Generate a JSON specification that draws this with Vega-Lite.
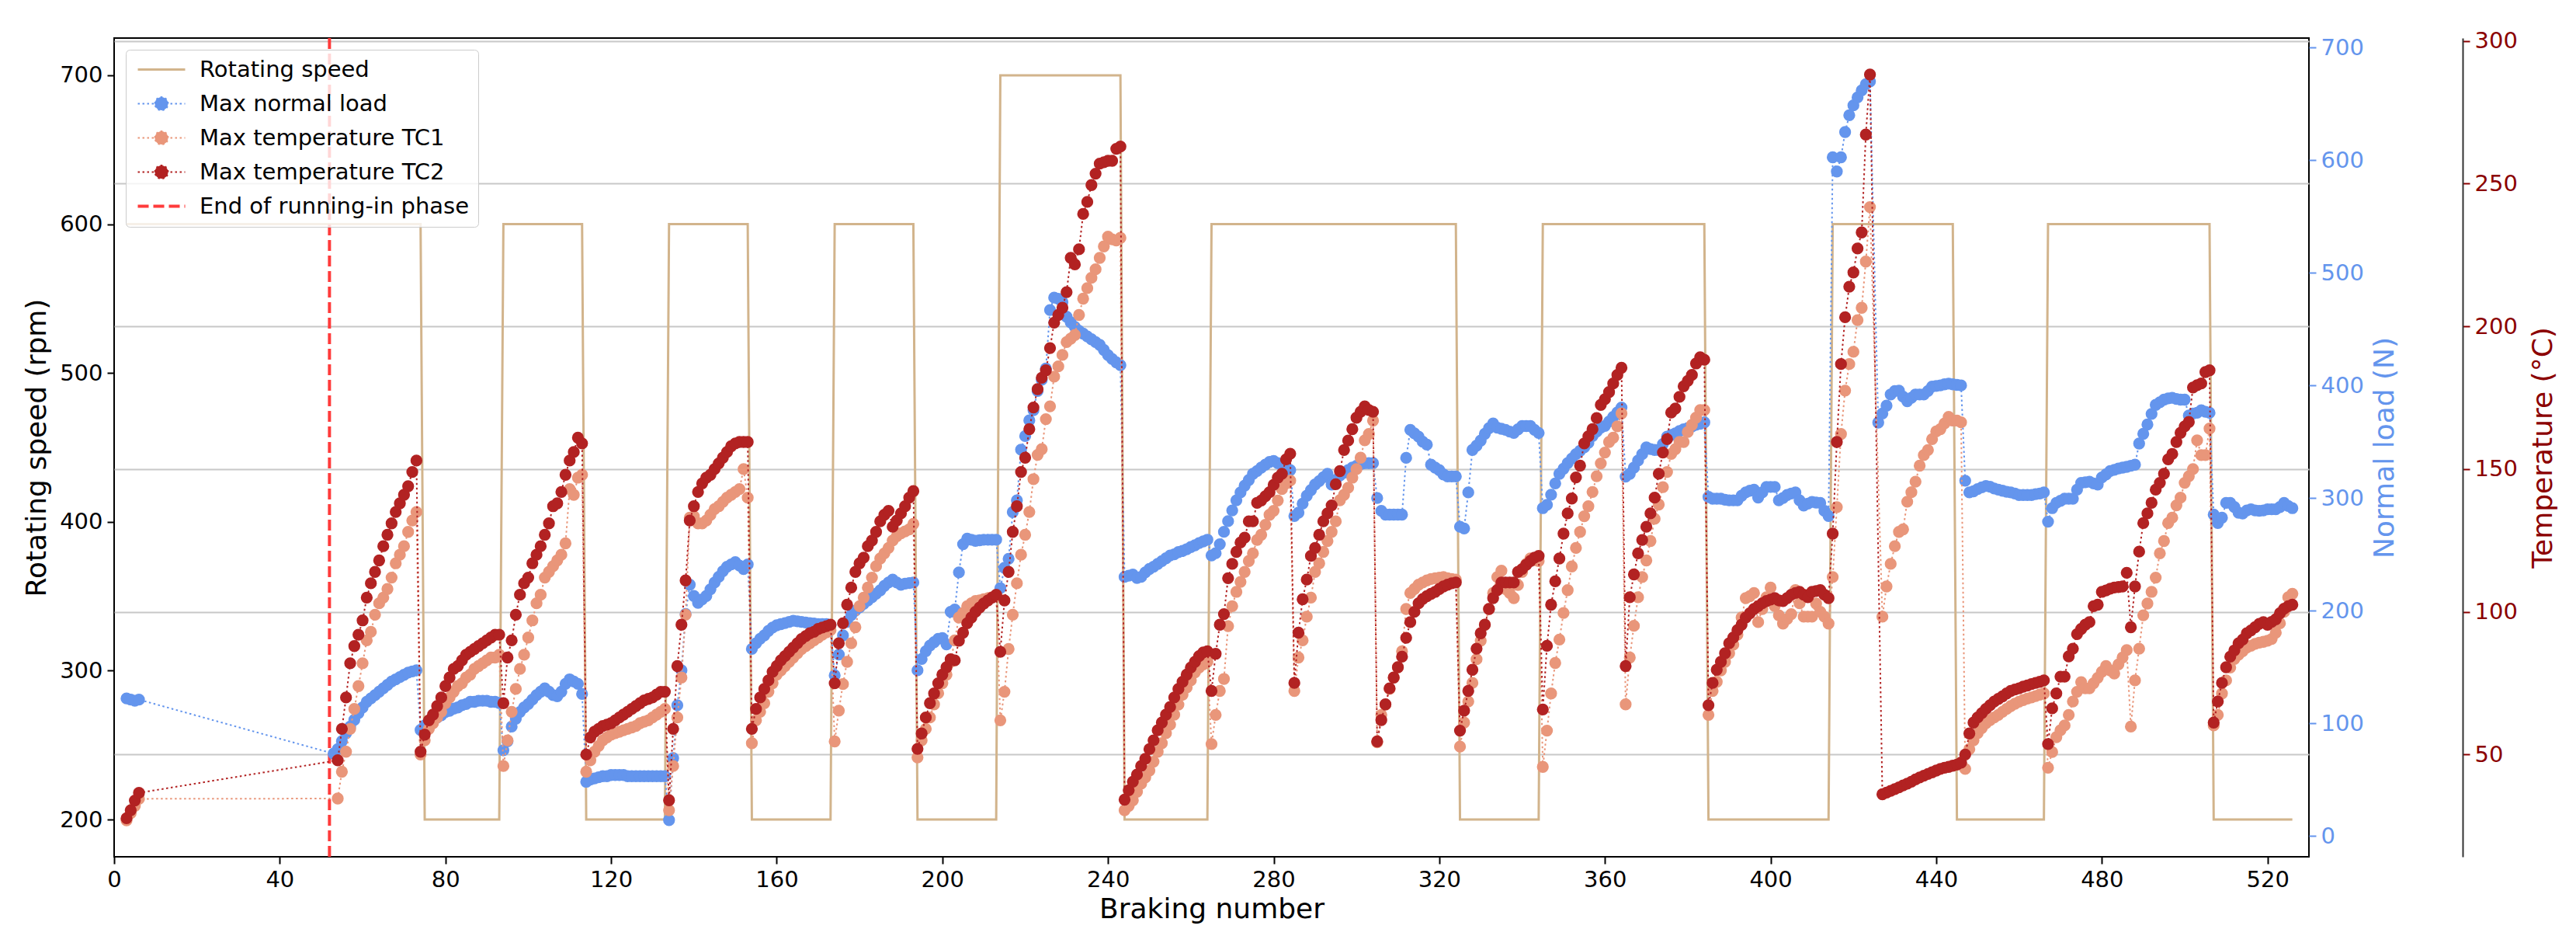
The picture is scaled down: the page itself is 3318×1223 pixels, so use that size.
{
  "$schema": "https://vega.github.io/schema/vega-lite/v6.json",
  "width": 2827,
  "height": 1054,
  "autosize": {"type": "none"},
  "padding": {"left": 147, "top": 49, "right": 344, "bottom": 120},
  "background": "white",
  "config": {
    "font": "DejaVu Sans",
    "view": {"stroke": "black", "strokeWidth": 2},
    "axis": {
      "labelFont": "DejaVu Sans", "titleFont": "DejaVu Sans",
      "labelFontSize": 29, "titleFontSize": 36, "titleFontWeight": "normal",
      "labelColor": "black", "titleColor": "black", "tickColor": "black",
      "tickSize": 9, "tickWidth": 2, "labelPadding": 6,
      "domain": false, "grid": false, "labelFlush": false, "labelOverlap": false, "labelBound": false
    }
  },
  "datasets": {
    "sp": [
      {"b":3,"s":600},{"b":74,"s":600},{"b":75,"s":200},{"b":93,"s":200},{"b":94,"s":600},{"b":113,"s":600},
      {"b":114,"s":200},{"b":133,"s":200},{"b":134,"s":600},{"b":153,"s":600},{"b":154,"s":200},{"b":173,"s":200},
      {"b":174,"s":600},{"b":193,"s":600},{"b":194,"s":200},{"b":213,"s":200},{"b":214,"s":700},{"b":243,"s":700},
      {"b":244,"s":200},{"b":264,"s":200},{"b":265,"s":600},{"b":324,"s":600},{"b":325,"s":200},{"b":344,"s":200},
      {"b":345,"s":600},{"b":384,"s":600},{"b":385,"s":200},{"b":414,"s":200},{"b":415,"s":600},{"b":444,"s":600},
      {"b":445,"s":200},{"b":466,"s":200},{"b":467,"s":600},{"b":506,"s":600},{"b":507,"s":200},{"b":526,"s":200}
    ],
    "m": [
      {"b":3,"l":122,"t":27,"u":27.7},{"b":4,"l":121,"t":29.5,"u":30.5},{"b":5,"l":120,"t":32,"u":33.9},{"b":6,"l":121,"t":34.5,"u":36.6},
      {"b":53,"l":73},{"b":54,"l":77,"t":34.6,"u":48},{"b":55,"l":84,"t":44,"u":59},{"b":56,"l":91,"t":51,"u":70},
      {"b":57,"l":97,"t":59,"u":82},{"b":58,"l":103,"t":66,"u":88},{"b":59,"l":109,"t":74,"u":92},{"b":60,"l":114,"t":82,"u":97},
      {"b":61,"l":119,"t":90,"u":105},{"b":62,"l":122,"t":93,"u":110},{"b":63,"l":125,"t":99,"u":114},{"b":64,"l":128,"t":103,"u":118},
      {"b":65,"l":131,"t":105,"u":123},{"b":66,"l":134,"t":108,"u":127},{"b":67,"l":137,"t":112,"u":131},{"b":68,"l":139,"t":117,"u":135},
      {"b":69,"l":141,"t":120,"u":138},{"b":70,"l":143,"t":123,"u":141},{"b":71,"l":145,"t":128,"u":144},{"b":72,"l":146,"t":132,"u":149},
      {"b":73,"l":147,"t":135,"u":153},{"b":74,"l":94,"t":50,"u":51},{"b":75,"l":98,"t":55,"u":57},{"b":76,"l":100,"t":59,"u":62},
      {"b":77,"l":102,"t":61,"u":64},{"b":78,"l":105,"t":63,"u":67},{"b":79,"l":107,"t":65,"u":70},{"b":80,"l":110,"t":68,"u":74},
      {"b":81,"l":111,"t":70,"u":77},{"b":82,"l":113,"t":72,"u":80},{"b":83,"l":114,"t":74,"u":81},{"b":84,"l":116,"t":75,"u":83},
      {"b":85,"l":117,"t":77,"u":85},{"b":86,"l":119,"t":78,"u":86},{"b":87,"l":119,"t":80,"u":87},{"b":88,"l":120,"t":81,"u":88},
      {"b":89,"l":120,"t":82,"u":89},{"b":90,"l":120,"t":83,"u":90},{"b":91,"l":119,"t":84,"u":91},{"b":92,"l":119,"t":84,"u":92},
      {"b":93,"l":118,"t":85,"u":92},{"b":94,"l":76,"t":46,"u":68},{"b":95,"l":84,"t":55,"u":84},{"b":96,"l":97,"t":65,"u":90},
      {"b":97,"l":104,"t":73,"u":99},{"b":98,"l":110,"t":80,"u":106},{"b":99,"l":114,"t":85,"u":110},{"b":100,"l":117,"t":91,"u":112},
      {"b":101,"l":121,"t":97,"u":117},{"b":102,"l":125,"t":103,"u":120},{"b":103,"l":128,"t":106,"u":123},{"b":104,"l":131,"t":112,"u":127},
      {"b":105,"l":128,"t":114,"u":131},{"b":106,"l":125,"t":116,"u":137},{"b":107,"l":124,"t":118,"u":138},{"b":108,"l":128,"t":120,"u":142},
      {"b":109,"l":135,"t":124,"u":148},{"b":110,"l":139,"t":143,"u":153},{"b":111,"l":137,"t":141,"u":156},{"b":112,"l":135,"t":147,"u":161},
      {"b":113,"l":126,"t":148,"u":159},{"b":114,"l":48,"t":44,"u":50},{"b":115,"l":50,"t":48,"u":56},{"b":116,"l":51,"t":51,"u":58},
      {"b":117,"l":52,"t":53,"u":59},{"b":118,"l":53,"t":55,"u":60},{"b":119,"l":53,"t":56,"u":60.5},{"b":120,"l":54,"t":57,"u":61},
      {"b":121,"l":54,"t":57.5,"u":62},{"b":122,"l":54,"t":58,"u":63},{"b":123,"l":54,"t":58.5,"u":64},{"b":124,"l":53,"t":59,"u":65},
      {"b":125,"l":53,"t":59.5,"u":66},{"b":126,"l":53,"t":60,"u":67},{"b":127,"l":53,"t":61,"u":68},{"b":128,"l":53,"t":61.5,"u":69},
      {"b":129,"l":53,"t":62,"u":69.5},{"b":130,"l":53,"t":63,"u":70},{"b":131,"l":53,"t":64,"u":71},{"b":132,"l":53,"t":65,"u":72},
      {"b":133,"l":53,"t":66,"u":72},{"b":134,"l":14,"t":30.5,"u":34},{"b":135,"l":69,"t":46,"u":59},{"b":136,"l":116,"t":63,"u":81},
      {"b":137,"l":147,"t":77,"u":95.5},{"b":138,"l":197,"t":99,"u":111},{"b":139,"l":223,"t":133,"u":132},{"b":140,"l":213,"t":133.5,"u":137},
      {"b":141,"l":207,"t":131,"u":142},{"b":142,"l":210,"t":131,"u":145},{"b":143,"l":213,"t":132,"u":147},{"b":144,"l":219,"t":134,"u":148},
      {"b":145,"l":225,"t":136,"u":150},{"b":146,"l":230,"t":137,"u":152},{"b":147,"l":235,"t":138.5,"u":154},{"b":148,"l":239,"t":140,"u":156},
      {"b":149,"l":241,"t":141,"u":158},{"b":150,"l":243,"t":142,"u":159},{"b":151,"l":240,"t":143,"u":159.5},{"b":152,"l":237,"t":150,"u":159.5},
      {"b":153,"l":241,"t":140,"u":159.5},{"b":154,"l":166,"t":54,"u":59},{"b":155,"l":171,"t":62,"u":66},{"b":156,"l":175,"t":65,"u":70},
      {"b":157,"l":178,"t":68,"u":73},{"b":158,"l":182,"t":72,"u":76},{"b":159,"l":185,"t":75,"u":79},{"b":160,"l":187,"t":78,"u":81},
      {"b":161,"l":188,"t":79.5,"u":83},{"b":162,"l":189,"t":81,"u":84.5},{"b":163,"l":190,"t":82.5,"u":86},{"b":164,"l":191,"t":84,"u":87.5},
      {"b":165,"l":190.5,"t":85.5,"u":89},{"b":166,"l":190,"t":87,"u":90.5},{"b":167,"l":189.5,"t":88,"u":91.5},{"b":168,"l":189,"t":89,"u":92.5},
      {"b":169,"l":188.5,"t":90,"u":93},{"b":170,"l":188,"t":91,"u":94},{"b":171,"l":188,"t":92,"u":94.5},{"b":172,"l":188,"t":92.8,"u":95},
      {"b":173,"l":187,"t":93.6,"u":95.5},{"b":174,"l":142.5,"t":54.6,"u":75},{"b":175,"l":161,"t":65.4,"u":89},{"b":176,"l":178,"t":74.7,"u":96},
      {"b":177,"l":190,"t":82.5,"u":102.5},{"b":178,"l":196,"t":89,"u":108.5},{"b":179,"l":200,"t":94.6,"u":114},{"b":180,"l":203,"t":102,"u":117},
      {"b":181,"l":206,"t":105,"u":119},{"b":182,"l":209,"t":108.5,"u":123},{"b":183,"l":212,"t":112,"u":125},{"b":184,"l":215,"t":116,"u":128},
      {"b":185,"l":218,"t":118.7,"u":131.7},{"b":186,"l":222,"t":120.5,"u":134},{"b":187,"l":225,"t":122.4,"u":135.4},{"b":188,"l":227.5,"t":125,"u":129.8},
      {"b":189,"l":225,"t":126.5,"u":132},{"b":190,"l":223,"t":127.5,"u":134.5},{"b":191,"l":224,"t":128.2,"u":137},{"b":192,"l":224.5,"t":128.9,"u":140},
      {"b":193,"l":225,"t":130.8,"u":142.3},{"b":194,"l":147,"t":49,"u":52},{"b":195,"l":157,"t":55,"u":57.4},{"b":196,"l":164,"t":59,"u":63},
      {"b":197,"l":169,"t":63,"u":68},{"b":198,"l":172,"t":67.6,"u":71.4},{"b":199,"l":175,"t":71.5,"u":75},{"b":200,"l":175.6,"t":75,"u":78},
      {"b":201,"l":170,"t":78,"u":80.6},{"b":202,"l":199,"t":82.5,"u":83.4},{"b":203,"l":201,"t":90,"u":83},{"b":204,"l":234,"t":98,"u":89.9},
      {"b":205,"l":259,"t":99.6,"u":92.7},{"b":206,"l":264,"t":102,"u":96},{"b":207,"l":263,"t":103,"u":98},{"b":208,"l":262,"t":103.8,"u":100},
      {"b":209,"l":262.5,"t":104,"u":101.5},{"b":210,"l":263,"t":104.4,"u":102.9},{"b":211,"l":263,"t":104.8,"u":104},{"b":212,"l":263,"t":105.1,"u":105},
      {"b":213,"l":263,"t":105.7,"u":106},{"b":214,"l":220,"t":62,"u":86},{"b":215,"l":238,"t":72,"u":104},{"b":216,"l":246,"t":87,"u":114},
      {"b":217,"l":287.5,"t":99,"u":128},{"b":218,"l":298,"t":110,"u":137},{"b":219,"l":343,"t":120,"u":149},{"b":220,"l":355,"t":127,"u":154},
      {"b":221,"l":369,"t":135,"u":164},{"b":222,"l":378,"t":146.5,"u":171.6},{"b":223,"l":395,"t":155,"u":178},{"b":224,"l":405,"t":157,"u":182},
      {"b":225,"l":415,"t":167.5,"u":184.6},{"b":226,"l":467,"t":172,"u":192.4},{"b":227,"l":478,"t":182.4,"u":201.3},{"b":228,"l":477,"t":186,"u":204},
      {"b":229,"l":474,"t":190,"u":206.5},{"b":230,"l":461,"t":194.5,"u":212},{"b":231,"l":456,"t":195.7,"u":224},{"b":232,"l":452,"t":197,"u":221.7},
      {"b":233,"l":448.5,"t":204,"u":227},{"b":234,"l":446,"t":209.7,"u":239.4},{"b":235,"l":443.5,"t":213.4,"u":243.6},{"b":236,"l":441,"t":217,"u":249.5},
      {"b":237,"l":438.5,"t":220,"u":253.5},{"b":238,"l":436,"t":224,"u":257},{"b":239,"l":431.5,"t":228,"u":257.5},{"b":240,"l":427,"t":231.4,"u":258},
      {"b":241,"l":423.5,"t":230.5,"u":258},{"b":242,"l":420.5,"t":230.1,"u":262.2},{"b":243,"l":418,"t":231,"u":263},{"b":244,"l":230,"t":30.5,"u":34.2},
      {"b":245,"l":231,"t":32,"u":37.5},{"b":246,"l":232,"t":34,"u":40.5},{"b":247,"l":229,"t":37,"u":43},{"b":248,"l":230,"t":39.8,"u":46},
      {"b":249,"l":234,"t":42,"u":48.5},{"b":250,"l":237,"t":44.4,"u":51.9},{"b":251,"l":239,"t":47.5,"u":55},{"b":252,"l":241.5,"t":51,"u":58.5},
      {"b":253,"l":244,"t":54,"u":61.2},{"b":254,"l":246.5,"t":57.5,"u":64},{"b":255,"l":249,"t":60.5,"u":66.7},{"b":256,"l":250,"t":64,"u":70},
      {"b":257,"l":252,"t":67.5,"u":73},{"b":258,"l":253,"t":71,"u":75.5},{"b":259,"l":254.5,"t":73.5,"u":78},{"b":260,"l":256.5,"t":76,"u":80.5},
      {"b":261,"l":258,"t":78.8,"u":82.5},{"b":262,"l":260,"t":80.5,"u":84.5},{"b":263,"l":261.5,"t":81.6,"u":85.8},{"b":264,"l":263,"t":82.5,"u":86.2},
      {"b":265,"l":249,"t":53.7,"u":72.3},{"b":266,"l":251,"t":63.9,"u":85.3},{"b":267,"l":259,"t":72.3,"u":95.5},{"b":268,"l":270,"t":76.5,"u":99.2},
      {"b":269,"l":279.5,"t":95,"u":111.8},{"b":270,"l":289,"t":102,"u":116.8},{"b":271,"l":298,"t":107,"u":121},{"b":272,"l":305,"t":110.5,"u":124.3},
      {"b":273,"l":311,"t":114,"u":126},{"b":274,"l":316,"t":117.8,"u":131.7},{"b":275,"l":321.5,"t":120.5,"u":131.7},{"b":276,"l":324,"t":125.2,"u":138.2},
      {"b":277,"l":327,"t":127,"u":139},{"b":278,"l":329.6,"t":130.5,"u":140.5},{"b":279,"l":332,"t":134,"u":141.9},{"b":280,"l":333,"t":135.4,"u":144.5},
      {"b":281,"l":331,"t":139,"u":147},{"b":282,"l":329.5,"t":143,"u":148.4},{"b":283,"l":327.5,"t":145,"u":153.4},{"b":284,"l":324.8,"t":146,"u":155.4},
      {"b":285,"l":284,"t":72.3,"u":75.1},{"b":286,"l":287,"t":84,"u":92.7},{"b":287,"l":295,"t":90,"u":104.4},{"b":288,"l":302,"t":98.3,"u":111.3},
      {"b":289,"l":307,"t":105,"u":119.6},{"b":290,"l":312,"t":114,"u":122.4},{"b":291,"l":315,"t":117,"u":127},{"b":292,"l":318.5,"t":121,"u":131.7},
      {"b":293,"l":321.5,"t":124.8,"u":134.5},{"b":294,"l":312,"t":128,"u":137.3},{"b":295,"l":316,"t":131.7,"u":144.7},{"b":296,"l":320,"t":139.1,"u":149.3},
      {"b":297,"l":322.5,"t":141,"u":156.7},{"b":298,"l":324.8,"t":143.5,"u":160},{"b":299,"l":327,"t":147,"u":164},{"b":300,"l":328.6,"t":150,"u":168},
      {"b":301,"l":330,"t":154,"u":170.1},{"b":302,"l":331,"t":160.1,"u":172},{"b":303,"l":331,"t":162.3,"u":170.7},{"b":304,"l":331,"t":167,"u":170.1},
      {"b":305,"l":300,"t":54.3,"u":54.6},{"b":306,"l":288.6,"t":63.9,"u":62.1},{"b":307,"l":285.3,"t":67.5,"u":67.6},{"b":308,"l":285.3,"t":73,"u":73.2},
      {"b":309,"l":285.3,"t":77,"u":77},{"b":310,"l":285.3,"t":80.6,"u":80.6},{"b":311,"l":285.3,"t":86.2,"u":84.3},{"b":312,"l":335.7,"t":101,"u":90.9},
      {"b":313,"l":360.6,"t":106.6,"u":96.4},{"b":314,"l":357.5,"t":108,"u":100},{"b":315,"l":354.5,"t":109.5,"u":103},{"b":316,"l":350,"t":110.3,"u":104.5},
      {"b":317,"l":347.4,"t":111,"u":105.5},{"b":318,"l":329.6,"t":111.5,"u":106.3},{"b":319,"l":327,"t":111.8,"u":107},{"b":320,"l":324.8,"t":112,"u":108},
      {"b":321,"l":321,"t":112.2,"u":108.9},{"b":322,"l":319.2,"t":111.8,"u":109.5},{"b":323,"l":319.2,"t":111.5,"u":110},{"b":324,"l":319.2,"t":111.3,"u":110.3},
      {"b":325,"l":274.5,"t":52.8,"u":58.4},{"b":326,"l":273,"t":61.2,"u":65.4},{"b":327,"l":305,"t":68.6,"u":72.3},{"b":328,"l":342.7,"t":75.1,"u":79.7},
      {"b":329,"l":346.5,"t":83.4,"u":87.1},{"b":330,"l":351,"t":89.9,"u":92.5},{"b":331,"l":357,"t":95.5,"u":95.5},{"b":332,"l":362,"t":101,"u":101},
      {"b":333,"l":366.3,"t":106.6,"u":104.8},{"b":334,"l":362.5,"t":112.2,"u":107.6},{"b":335,"l":361.5,"t":114.4,"u":110.3},{"b":336,"l":360.6,"t":108,"u":110.3},
      {"b":337,"l":359,"t":106.6,"u":110.3},{"b":338,"l":357.8,"t":104.8,"u":110.3},{"b":339,"l":361,"t":109.4,"u":114},{"b":340,"l":363.9,"t":114,"u":115},
      {"b":341,"l":363.9,"t":116.8,"u":116.5},{"b":342,"l":363.9,"t":118.7,"u":117.8},{"b":343,"l":360.6,"t":118.1,"u":119},{"b":344,"l":357.8,"t":117.8,"u":119.6},
      {"b":345,"l":291,"t":45.7,"u":65.8},{"b":346,"l":294,"t":58.4,"u":88.1},{"b":347,"l":303,"t":71.4,"u":102.5},{"b":348,"l":313,"t":82.1,"u":110.7},
      {"b":349,"l":321.5,"t":90.3,"u":118.7},{"b":350,"l":326,"t":99.6,"u":127.4},{"b":351,"l":331,"t":107.6,"u":134.5},{"b":352,"l":335,"t":115.9,"u":139.7},
      {"b":353,"l":339,"t":122.4,"u":147.1},{"b":354,"l":342,"t":128,"u":151.2},{"b":355,"l":345,"t":133.5,"u":159},{"b":356,"l":349,"t":137,"u":161.5},
      {"b":357,"l":355,"t":142,"u":164},{"b":358,"l":359,"t":147.5,"u":167.9},{"b":359,"l":362.5,"t":152,"u":172.5},{"b":360,"l":364,"t":155.8,"u":174.5},
      {"b":361,"l":368,"t":159.5,"u":177},{"b":362,"l":372,"t":161,"u":180},{"b":363,"l":376,"t":165,"u":183},{"b":364,"l":380.4,"t":169.5,"u":185.5},
      {"b":365,"l":319,"t":67.6,"u":81},{"b":366,"l":321.5,"t":84,"u":105.1},{"b":367,"l":327,"t":95.1,"u":113.1},{"b":368,"l":333.3,"t":105.1,"u":120.5},
      {"b":369,"l":339,"t":112.2,"u":125.2},{"b":370,"l":345,"t":118,"u":129.8},{"b":371,"l":343.5,"t":124.8,"u":134.5},{"b":372,"l":342.7,"t":132.6,"u":140},
      {"b":373,"l":342.7,"t":137.6,"u":148.4},{"b":374,"l":348,"t":143.7,"u":155.8},{"b":375,"l":354.5,"t":149,"u":160.5},{"b":376,"l":356,"t":155.3,"u":169.8},
      {"b":377,"l":357.5,"t":157,"u":171.2},{"b":378,"l":359.5,"t":159.5,"u":175.3},{"b":379,"l":361,"t":159.5,"u":179},{"b":380,"l":362,"t":163,"u":180.9},
      {"b":381,"l":363.5,"t":165.5,"u":183},{"b":382,"l":365,"t":168,"u":187},{"b":383,"l":366,"t":170.7,"u":189.2},{"b":384,"l":367.2,"t":170.7,"u":188.3},
      {"b":385,"l":301,"t":63.9,"u":67.3},{"b":386,"l":299.4,"t":72.3,"u":75.1},{"b":387,"l":299.4,"t":75.5,"u":79.7},{"b":388,"l":299.4,"t":79.5,"u":82.5},
      {"b":389,"l":298.5,"t":82.5,"u":85.5},{"b":390,"l":298,"t":85.5,"u":89},{"b":391,"l":298,"t":88.5,"u":91},{"b":392,"l":298,"t":92,"u":93.6},
      {"b":393,"l":302,"t":98,"u":95.5},{"b":394,"l":305,"t":104.8,"u":98},{"b":395,"l":306.5,"t":105.5,"u":99.5},{"b":396,"l":307.4,"t":106.6,"u":101},
      {"b":397,"l":300.4,"t":96.4,"u":102},{"b":398,"l":305,"t":101,"u":103},{"b":399,"l":309.8,"t":105.1,"u":103.8},{"b":400,"l":309.8,"t":108.5,"u":104.3},
      {"b":401,"l":309.8,"t":102,"u":104.8},{"b":402,"l":298,"t":98.8,"u":104},{"b":403,"l":300,"t":95.9,"u":103.8},{"b":404,"l":302.7,"t":97.5,"u":104.8},
      {"b":405,"l":304,"t":99.2,"u":106},{"b":406,"l":305,"t":107.6,"u":106.6},{"b":407,"l":298,"t":103,"u":107},{"b":408,"l":293.3,"t":98.3,"u":106},
      {"b":409,"l":295,"t":98.3,"u":105.1},{"b":410,"l":296.6,"t":98.3,"u":107},{"b":411,"l":296,"t":102.9,"u":107.3},{"b":412,"l":295.7,"t":100,"u":107.6},
      {"b":413,"l":288.6,"t":98.3,"u":106},{"b":414,"l":284,"t":95.9,"u":104.8},{"b":415,"l":602.6,"t":112.2,"u":127.4},{"b":416,"l":590,"t":136.7,"u":159.5},
      {"b":417,"l":602.6,"t":162.3,"u":186.8},{"b":418,"l":625,"t":177.5,"u":203.2},{"b":419,"l":640,"t":186.8,"u":213.9},{"b":420,"l":648.7,"t":191.1,"u":218.9},
      {"b":421,"l":655.8,"t":202.2,"u":227.3},{"b":422,"l":662,"t":206.5,"u":232.9},{"b":423,"l":667.5,"t":222.7,"u":267.2},{"b":424,"l":670,"t":241.8,"u":288.2},
      {"b":426,"l":367},{"b":427,"l":375,"t":98.3,"u":36.1},{"b":428,"l":382,"t":108.9,"u":36.7},{"b":429,"l":392,"t":116.8,"u":37.3},
      {"b":430,"l":395,"t":123,"u":37.9},{"b":431,"l":395.4,"t":128,"u":38.5},{"b":432,"l":390,"t":128.9,"u":39.2},{"b":433,"l":386,"t":138.6,"u":39.8},
      {"b":434,"l":389,"t":141.9,"u":40.5},{"b":435,"l":392,"t":145.6,"u":41.3},{"b":436,"l":392,"t":151.2,"u":42},{"b":437,"l":392,"t":154.9,"u":42.6},
      {"b":438,"l":395,"t":156.7,"u":43.2},{"b":439,"l":399,"t":160.5,"u":43.8},{"b":440,"l":399.5,"t":163.2,"u":44.4},{"b":441,"l":400,"t":164,"u":45},
      {"b":442,"l":401,"t":166,"u":45.4},{"b":443,"l":401.6,"t":168.3,"u":45.7},{"b":444,"l":401,"t":167,"u":46.1},{"b":445,"l":400.5,"t":167,"u":46.5},
      {"b":446,"l":400,"t":166.4,"u":47.2},{"b":447,"l":315.4,"t":45,"u":50},{"b":448,"l":305,"t":51.9,"u":57.4},{"b":449,"l":306,"t":55,"u":61.2},
      {"b":450,"l":308,"t":57.5,"u":63},{"b":451,"l":309.5,"t":59.3,"u":64.5},{"b":452,"l":310.7,"t":61,"u":66},{"b":453,"l":310,"t":62.1,"u":67.3},
      {"b":454,"l":308.5,"t":63,"u":68.6},{"b":455,"l":307.4,"t":63.9,"u":69.5},{"b":456,"l":306.5,"t":65,"u":70.4},{"b":457,"l":305.5,"t":66,"u":71.4},
      {"b":458,"l":305,"t":67,"u":72.3},{"b":459,"l":304,"t":67.8,"u":72.8},{"b":460,"l":302.7,"t":68.5,"u":73.2},{"b":461,"l":302.7,"t":69.1,"u":73.8},
      {"b":462,"l":302.7,"t":69.6,"u":74.2},{"b":463,"l":302.7,"t":70,"u":74.7},{"b":464,"l":303.5,"t":70.5,"u":75.1},{"b":465,"l":304,"t":71,"u":75.5},
      {"b":466,"l":305,"t":71.4,"u":76},{"b":467,"l":279,"t":45.4,"u":53.7},{"b":468,"l":291,"t":50.9,"u":66.2},{"b":469,"l":295.7,"t":56.1,"u":71.4},
      {"b":470,"l":297.5,"t":58.5,"u":77.3},{"b":471,"l":299.4,"t":60.2,"u":77.3},{"b":472,"l":299.4,"t":63.9,"u":84.4},{"b":473,"l":299.4,"t":68.6,"u":87.1},
      {"b":474,"l":307.4,"t":72,"u":92.2},{"b":475,"l":313.5,"t":75.4,"u":94},{"b":476,"l":314,"t":73.2,"u":95.5},{"b":477,"l":314.5,"t":73.2,"u":96.4},
      {"b":478,"l":313,"t":75,"u":102},{"b":479,"l":312,"t":76.9,"u":102.5},{"b":480,"l":318.3,"t":79,"u":107},{"b":481,"l":321,"t":81,"u":107.5},
      {"b":482,"l":324,"t":79.5,"u":108.1},{"b":483,"l":325,"t":78.4,"u":108.5},{"b":484,"l":326.2,"t":81.6,"u":108.7},{"b":485,"l":327,"t":84,"u":108.9},
      {"b":486,"l":327.7,"t":86.6,"u":113.7},{"b":487,"l":328.6,"t":59.8,"u":94.6},{"b":488,"l":329.6,"t":76,"u":108.9},{"b":489,"l":348.4,"t":87.1,"u":121.1},
      {"b":490,"l":357,"t":98.8,"u":131.1},{"b":491,"l":365.3,"t":102.9,"u":134.5},{"b":492,"l":374.7,"t":107,"u":138.2},{"b":493,"l":382.7,"t":112,"u":142.8},
      {"b":494,"l":385,"t":120.5,"u":145.2},{"b":495,"l":387.4,"t":124.8,"u":148.4},{"b":496,"l":388.5,"t":131.1,"u":153.4},{"b":497,"l":389,"t":133,"u":155.3},
      {"b":498,"l":388,"t":137.3,"u":159.5},{"b":499,"l":387.4,"t":140,"u":162.7},{"b":500,"l":387.4,"t":145.2,"u":165},{"b":501,"l":373.3,"t":147.5,"u":166.5},
      {"b":502,"l":375,"t":150,"u":178.6},{"b":503,"l":375.7,"t":160.1,"u":179.4},{"b":504,"l":378,"t":154.9,"u":180},{"b":505,"l":376.6,"t":154.9,"u":184},
      {"b":506,"l":375.7,"t":164.2,"u":184.6},{"b":507,"l":285.3,"t":60.2,"u":61.2},{"b":508,"l":277.8,"t":63.9,"u":68.6},{"b":509,"l":282.5,"t":71.4,"u":75.1},
      {"b":510,"l":295.7,"t":76,"u":80.6},{"b":511,"l":295.7,"t":80.5,"u":84.3},{"b":512,"l":292,"t":83.5,"u":86.5},{"b":513,"l":287,"t":85,"u":89},
      {"b":514,"l":286.2,"t":86.2,"u":90.3},{"b":515,"l":289,"t":87.5,"u":92.5},{"b":516,"l":290,"t":88.1,"u":93.5},{"b":517,"l":289,"t":88.8,"u":94.6},
      {"b":518,"l":288.6,"t":89.2,"u":95.8},{"b":519,"l":289,"t":89.5,"u":96.4},{"b":520,"l":290,"t":89.9,"u":95.5},{"b":521,"l":290,"t":90.5,"u":96.5},
      {"b":522,"l":290,"t":92.7,"u":97.4},{"b":523,"l":292,"t":96,"u":99.5},{"b":524,"l":295.7,"t":100,"u":101.1},{"b":525,"l":293,"t":105.1,"u":102},
      {"b":526,"l":291,"t":106.3,"u":102.5}
    ]
  },
  "layer": [
    {
      "data": {"name": "sp"},
      "mark": {"type": "line", "strokeWidth": 3},
      "encoding": {
        "x": {
          "field": "b", "type": "quantitative",
          "scale": {"domain": [0, 530], "nice": false, "zero": false},
          "axis": {"values": [0, 40, 80, 120, 160, 200, 240, 280, 320, 360, 400, 440, 480, 520], "title": "Braking number", "titlePadding": 6}
        },
        "y": {
          "field": "s", "type": "quantitative",
          "scale": {"domain": [175, 725], "nice": false, "zero": false},
          "axis": {"orient": "left", "values": [200, 300, 400, 500, 600, 700], "title": "Rotating speed (rpm)", "titlePadding": 10}
        },
        "color": {
          "datum": "Rotating speed", "type": "nominal",
          "scale": {
            "domain": ["Rotating speed", "Max normal load", "Max temperature TC1", "Max temperature TC2", "End of running-in phase"],
            "range": ["#D2B48C", "#6495ED", "#E9967A", "#B22222", "#FF3B3B"]
          },
          "legend": {
            "orient": "none", "legendX": 15, "legendY": 15, "title": null,
            "labelFont": "DejaVu Sans", "labelFontSize": 29, "labelColor": "black", "labelLimit": 1000,
            "symbolSize": 400, "labelOffset": 55, "rowPadding": 14, "padding": 11,
            "fillColor": "rgba(255,255,255,0.8)", "strokeColor": "#cccccc", "cornerRadius": 5,
            "encode": {
              "symbols": {
                "update": {
                  "shape": {"signal": "datum.value == 'Rotating speed' || datum.value == 'End of running-in phase' ? 'M-1,0H5.1' : 'M-1,0H5.1M1.2,0A0.85,0.85 0 1 1 2.9,0A0.85,0.85 0 1 1 1.2,0Z'"},
                  "strokeDash": {"signal": "datum.value == 'End of running-in phase' ? [14, 6] : datum.value == 'Rotating speed' ? [1, 0] : [2.5, 3.5]"},
                  "strokeWidth": {"signal": "datum.value == 'Rotating speed' ? 3 : datum.value == 'End of running-in phase' ? 4 : 2"},
                  "fill": {"signal": "scale('color', datum.value)"},
                  "stroke": {"signal": "scale('color', datum.value)"},
                  "opacity": {"value": 1},
                  "fillOpacity": {"value": 1},
                  "strokeOpacity": {"value": 1}
                }
              }
            }
          }
        }
      }
    },
    {
      "data": {"values": [{"b": 52}]},
      "mark": {"type": "rule", "strokeWidth": 4, "strokeDash": [14, 6]},
      "encoding": {
        "x": {"field": "b", "type": "quantitative"},
        "color": {"datum": "End of running-in phase", "type": "nominal"}
      }
    },
    {
      "data": {"name": "m"},
      "transform": [{"filter": "isValid(datum.l)"}],
      "mark": {"type": "line", "strokeWidth": 2, "strokeDash": [2.5, 3.5], "point": {"filled": true, "size": 235, "opacity": 1}},
      "encoding": {
        "x": {"field": "b", "type": "quantitative"},
        "y": {
          "field": "l", "type": "quantitative",
          "scale": {"domain": [-18.6, 708.5], "nice": false, "zero": false},
          "axis": {"orient": "right", "values": [0, 100, 200, 300, 400, 500, 600, 700], "title": "Normal load (N)",
                   "labelColor": "#6495ED", "tickColor": "#6495ED", "titleColor": "#6495ED", "titleAngle": 270, "titlePadding": 46}
        },
        "color": {"datum": "Max normal load", "type": "nominal"}
      }
    },
    {
      "data": {"name": "m"},
      "layer": [
        {
          "transform": [{"filter": "isValid(datum.t)"}],
          "mark": {"type": "line", "strokeWidth": 2, "strokeDash": [2.5, 3.5], "point": {"filled": true, "size": 235, "opacity": 1}},
          "encoding": {
            "x": {"field": "b", "type": "quantitative"},
            "y": {
              "field": "t", "type": "quantitative",
              "scale": {"domain": [14.2, 301], "nice": false, "zero": false},
              "axis": {"orient": "right", "offset": 198, "values": [50, 100, 150, 200, 250, 300], "title": "Temperature (°C)",
                       "domain": true, "domainColor": "#333333", "domainWidth": 2,
                       "grid": true, "gridColor": "#c8c8c8", "gridWidth": 2,
                       "labelColor": "#8B0000", "tickColor": "#8B0000", "titleColor": "#8B0000", "titleAngle": 270, "titlePadding": 52}
            },
            "color": {"datum": "Max temperature TC1", "type": "nominal"}
          }
        },
        {
          "transform": [{"filter": "isValid(datum.u)"}],
          "mark": {"type": "line", "strokeWidth": 2, "strokeDash": [2.5, 3.5], "point": {"filled": true, "size": 235, "opacity": 1}},
          "encoding": {
            "x": {"field": "b", "type": "quantitative"},
            "y": {"field": "u", "type": "quantitative"},
            "color": {"datum": "Max temperature TC2", "type": "nominal"}
          }
        }
      ]
    }
  ],
  "resolve": {"scale": {"y": "independent"}}
}
